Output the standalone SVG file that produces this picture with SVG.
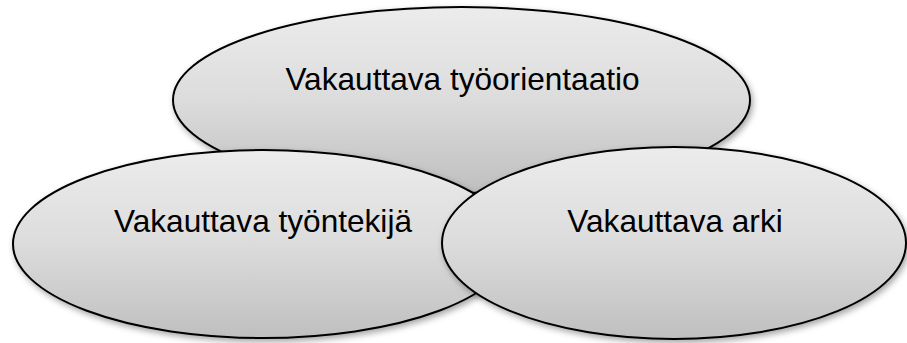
<svg xmlns="http://www.w3.org/2000/svg" width="907" height="343" viewBox="0 0 907 343">
<style>
.shape{fill:url(#g);stroke:#000;stroke-width:2;filter:url(#sh)}
.lbl{font-family:"Liberation Sans",Arial,sans-serif;font-size:31.6px;fill:#000;text-anchor:middle}
</style>
<defs>
<linearGradient id="g" x1="0" y1="0" x2="0" y2="1">
<stop offset="0" stop-color="#ececec"/>
<stop offset="0.5" stop-color="#dcdcdc"/>
<stop offset="1" stop-color="#bfbfbf"/>
</linearGradient>
<filter id="sh" x="-10%" y="-10%" width="125%" height="135%">
<feDropShadow dx="2" dy="3" stdDeviation="3" flood-color="#000" flood-opacity="0.35"/>
</filter>
</defs>
<rect width="907" height="343" fill="#fff"/>
<g id="node-top">
<ellipse class="shape" cx="461.5" cy="100" rx="288.5" ry="93"/>
<text class="lbl" x="462.5" y="90">Vakauttava työorientaatio</text>
</g>
<g id="node-left">
<ellipse class="shape" cx="263" cy="244" rx="250" ry="94"/>
<text class="lbl" x="263" y="232">Vakauttava työntekijä</text>
</g>
<g id="node-right">
<ellipse class="shape" cx="674" cy="243" rx="232" ry="96"/>
<text class="lbl" x="675" y="232">Vakauttava arki</text>
</g>
<g id="connectors"/>
</svg>
